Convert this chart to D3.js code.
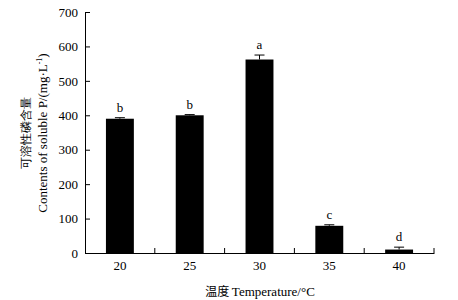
<!DOCTYPE html>
<html><head><meta charset="utf-8">
<script src="https://cdn.jsdelivr.net/npm/d3@7"></script>
<style>body{margin:0;background:#fff}svg{display:block}text{font-family:"Liberation Serif","Times New Roman",serif;fill:#000}</style>
</head><body><svg id="c" width="458" height="300"></svg>
<script>
const categories = ["20","25","30","35","40"];
const values = [390, 400, 562, 79, 10];
const errors = [3, 2, 13, 3, 7];
const letters = ["b","b","a","c","d"];
const yTicks = [0,100,200,300,400,500,600,700];

const svg = d3.select("#c");
const m = {l:85, r:434, t:12, b:253};
const x = d3.scaleBand().domain(categories).range([m.l, m.r]).padding(0);
const y = d3.scaleLinear().domain([0,700]).range([m.b, m.t]);

// y axis
const ya = svg.append("g").attr("transform",`translate(${m.l},0)`)
  .call(d3.axisLeft(y).tickValues(yTicks).tickSizeInner(-5).tickSizeOuter(0).tickPadding(7));
ya.select(".domain").attr("stroke","#000");
ya.selectAll("text").attr("font-size",13).attr("fill","#000");

// x axis
const xa = svg.append("g").attr("transform",`translate(0,${m.b})`)
  .call(d3.axisBottom(x).tickSize(0).tickPadding(8));
xa.select(".domain").attr("stroke","#000");
xa.selectAll("text").attr("font-size",13).attr("fill","#000");
xa.selectAll(".sep").data(categories).enter().append("line")
  .attr("x1",d=>x(d)+x.bandwidth()).attr("x2",d=>x(d)+x.bandwidth())
  .attr("y1",0).attr("y2",-5).attr("stroke","#000");

const bw = x.bandwidth()*0.4;
const cx = d => x(d)+x.bandwidth()/2;
svg.selectAll(".bar").data(categories).enter().append("rect")
  .attr("x",d=>cx(d)-bw/2).attr("width",bw)
  .attr("y",(d,i)=>y(values[i])).attr("height",(d,i)=>y(0)-y(values[i]))
  .attr("fill","#000");
// error bars (upper)
svg.selectAll(".err").data(categories).enter().append("line")
  .attr("x1",cx).attr("x2",cx)
  .attr("y1",(d,i)=>y(values[i])).attr("y2",(d,i)=>y(values[i]+errors[i]))
  .attr("stroke","#000");
svg.selectAll(".cap").data(categories).enter().append("line")
  .attr("x1",d=>cx(d)-5).attr("x2",d=>cx(d)+5)
  .attr("y1",(d,i)=>y(values[i]+errors[i])).attr("y2",(d,i)=>y(values[i]+errors[i]))
  .attr("stroke","#000");
svg.selectAll(".let").data(categories).enter().append("text")
  .attr("x",cx).attr("y",(d,i)=>y(values[i]+errors[i])-6)
  .attr("text-anchor","middle").attr("font-size",13).attr("fill","#000").text((d,i)=>letters[i]);

// axis titles
const xt = svg.append("text").attr("x",260).attr("y",296).attr("text-anchor","middle").attr("font-size",13);
xt.append("tspan").attr("font-family","'Noto Sans CJK SC'").attr("font-size",12).text("温度 ");
xt.append("tspan").text("Temperature/°C");

const yt = svg.append("g").attr("transform","translate(0,133) rotate(-90)");
yt.append("text").attr("x",0).attr("y",30).attr("text-anchor","middle")
  .attr("font-family","'Noto Sans CJK SC'").attr("font-size",12).text("可溶性磷含量");
const t2 = yt.append("text").attr("x",0).attr("y",47).attr("text-anchor","middle").attr("font-size",13);
t2.append("tspan").text("Contents of soluble P/(mg·L");
t2.append("tspan").attr("font-size",8).attr("dy",-5).text("-1");
t2.append("tspan").attr("dy",5).text(")");
</script></body></html>
